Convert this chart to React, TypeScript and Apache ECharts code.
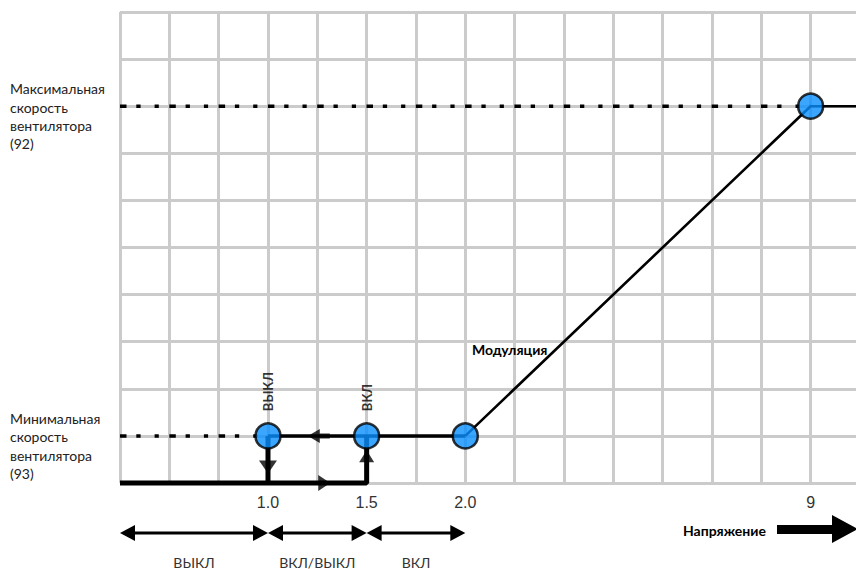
import React, { useEffect, useRef } from "react";
import * as echarts from "echarts";

// ---- data ----
const xTickValues = [3, 5, 7, 14];
const xTickLabels = ["1.0", "1.5", "2.0", "9"];
const yLabelValues = [8, 1];
const yLabelTexts = [
  "Максимальная\nскорость\nвентилятора\n(92)",
  "Минимальная\nскорость\nвентилятора\n(93)",
];
const switchPoints = [[3, 1], [5, 1], [7, 1], [14, 8]];
const pointLabels = ["ВЫКЛ", "ВКЛ", "", ""];
const flatSegment = [[3, 1], [7, 1]];
const modulationCurve = [[7, 1], [14, 8], [15, 8]];
const maxSpeedGuide = [[0, 8], [14, 8]];
const minSpeedGuide = [[0, 1], [3, 1]];
const offPath = [[3, 1], [3, 0]];
const onPath = [[0, 0], [5, 0], [5, 1]];
const arrowRight = [[4.14, 0]];
const arrowLeft = [[4.03, 1]];
const arrowDown = [[3, 0.34]];
const arrowUp = [[5, 0.57]];
const zoneBounds = [0, 3, 5, 7];
const zoneLabels = ["ВЫКЛ", "ВКЛ/ВЫКЛ", "ВКЛ"];
const axisTitle = "Напряжение";
const curveLabel = "Модуляция";

const CAL = "Lato, 'Open Sans', sans-serif";
const ARIAL = "'Liberation Sans', Arial, sans-serif";

export default function App() {
  const ref = useRef<HTMLDivElement>(null);
  useEffect(() => {
    document.body.style.margin = "0";
    document.body.style.overflow = "hidden";
    if (!ref.current) return;
    const chart = echarts.init(ref.current, undefined, { renderer: "svg", width: 856, height: 569 });
    const lineBase = (data: number[][], width: number, extra: any = {}, clip = false) => ({
      type: "line",
      data,
      symbol: "none",
      clip,
      silent: true,
      z: 3,
      lineStyle: { color: "#000", width, ...extra },
    });
    const arrow = (data: number[][], path: string, size: number[]) => ({
      type: "scatter",
      data,
      symbol: path,
      symbolSize: size,
      itemStyle: { color: "#000" },
      clip: false,
      silent: true,
      z: 4,
    });
    const dash = [6.5, 9.8, 4.3, 14, 4.2, 10.5];
    const grid = { color: "#cbcbcb", width: 3 };
    chart.setOption({
      animation: false,
      grid: { left: 120, top: 12, width: 736, height: 471, containLabel: false },
      xAxis: {
        type: "value",
        min: 0,
        max: 14.92,
        interval: 1,
        axisLine: { show: false },
        axisTick: { show: false },
        splitLine: { show: true, showMaxLine: false, lineStyle: grid },
        axisLabel: {
          margin: 11,
          fontSize: 16,
          fontFamily: ARIAL,
          color: "#333",
          showMaxLabel: false,
          formatter: (v: number) => {
            const i = xTickValues.indexOf(v);
            return i >= 0 ? xTickLabels[i] : "";
          },
        },
      },
      yAxis: {
        type: "value",
        min: 0,
        max: 10,
        interval: 1,
        axisLine: { show: false },
        axisTick: { show: false },
        splitLine: { show: true, lineStyle: grid },
        axisLabel: { show: false },
      },
      series: [
        lineBase(maxSpeedGuide, 3.5, { type: dash, cap: "butt" }),
        lineBase(minSpeedGuide, 3.5, { type: dash, cap: "butt" }),
        lineBase(onPath, 5),
        lineBase(offPath, 5),
        lineBase(flatSegment, 3.5),
        lineBase(modulationCurve, 2.6, {}, true),
        arrow(arrowRight, "path://M0,0 L12,8 L0,16 Z", [12, 16]),
        arrow(arrowLeft, "path://M0,7 L12,0 L12,4.5 L22,4.5 L22,9.5 L12,9.5 L12,14 Z", [22, 14]),
        arrow(arrowDown, "path://M0,0 L18,0 L9,13 Z", [18, 13]),
        arrow(arrowUp, "path://M7.5,0 L15,12 L0,12 Z", [15, 12]),
        {
          type: "scatter",
          data: switchPoints,
          symbol: "circle",
          symbolSize: 25,
          clip: false,
          z: 5,
          itemStyle: { color: "#0a90ff", borderColor: "#000", borderWidth: 2.5 },
          label: {
            show: true,
            position: "top",
            distance: 11,
            rotate: 90,
            align: "left",
            verticalAlign: "middle",
            fontSize: 13,
            fontWeight: "bold",
            fontFamily: CAL,
            color: "#000",
            formatter: (p: any) => pointLabels[p.dataIndex],
          },
        },
      ],
    });

    const px = (x: number, y: number) => chart.convertToPixel({ gridIndex: 0 } as any, [x, y]) as number[];
    const ay = 533;
    const graphics: any[] = [];
    for (let i = 0; i < yLabelValues.length; i++) {
      const y = px(0, yLabelValues[i])[1];
      graphics.push({
        type: "text",
        style: {
          x: 10,
          y: y + 10,
          text: yLabelTexts[i],
          align: "left",
          verticalAlign: "middle",
          fontSize: 14,
          lineHeight: 18.3,
          fontFamily: CAL,
          fill: "#222",
        },
      });
    }
    for (let i = 0; i < zoneLabels.length; i++) {
      const x1 = px(zoneBounds[i], 0)[0];
      const x2 = px(zoneBounds[i + 1], 0)[0];
      graphics.push({
        type: "line",
        shape: { x1: x1 + 8, y1: ay, x2: x2 - 8, y2: ay },
        style: { stroke: "#000", lineWidth: 3 },
      });
      graphics.push({
        type: "polygon",
        shape: { points: [[x1, ay], [x1 + 15, ay - 8], [x1 + 15, ay + 8]] },
        style: { fill: "#000" },
      });
      graphics.push({
        type: "polygon",
        shape: { points: [[x2, ay], [x2 - 15, ay - 8], [x2 - 15, ay + 8]] },
        style: { fill: "#000" },
      });
      graphics.push({
        type: "text",
        style: {
          x: (x1 + x2) / 2,
          y: 562,
          text: zoneLabels[i],
          align: "center",
          verticalAlign: "middle",
          fontSize: 14,
          fontFamily: CAL,
          fill: "#333",
        },
      });
    }
    graphics.push({
      type: "text",
      style: {
        x: 472,
        y: 349,
        text: curveLabel,
        align: "left",
        verticalAlign: "middle",
        fontSize: 14,
        fontWeight: "bold",
        fontFamily: CAL,
        fill: "#000",
      },
    });
    graphics.push({
      type: "text",
      style: {
        x: 683,
        y: 530,
        text: axisTitle,
        align: "left",
        verticalAlign: "middle",
        fontSize: 14,
        fontWeight: "bold",
        fontFamily: CAL,
        fill: "#000",
      },
    });
    graphics.push({
      type: "polygon",
      shape: {
        points: [[777, 525], [832, 525], [832, 515], [856, 528], [856, 530], [832, 543], [832, 534], [777, 534]],
      },
      style: { fill: "#000" },
    });
    chart.setOption({ graphic: graphics });
    return () => chart.dispose();
  }, []);
  return <div ref={ref} style={{ width: 856, height: 569, overflow: "hidden" }} />;
}
